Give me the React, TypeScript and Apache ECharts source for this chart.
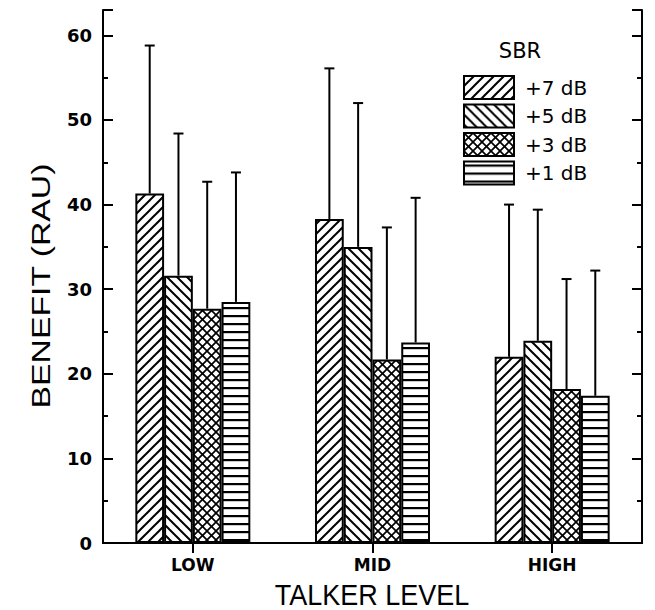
import React, { useEffect, useRef } from "react";
import * as echarts from "echarts";

const categories = ["LOW", "MID", "HIGH"];
const sbrLevels = ["+7 dB", "+5 dB", "+3 dB", "+1 dB"];
const mean7 = [41.3, 38.3, 22.0];
const mean5 = [31.6, 35.0, 23.9];
const mean3 = [27.7, 21.7, 18.2];
const mean1 = [28.5, 23.7, 17.4];
const top7 = [58.8, 56.1, 40.0];
const top5 = [48.4, 52.0, 39.4];
const top3 = [42.7, 37.3, 31.2];
const top1 = [43.8, 40.8, 32.2];
const yTicks = [0, 10, 20, 30, 40, 50, 60];

const means = [mean7, mean5, mean3, mean1];
const tops = [top7, top5, top3, top1];
const kinds = ["fwd", "back", "cross", "horiz"];

function makePattern(kind: string): any {
  const s = kind === "horiz" ? 8 : kind === "cross" ? 9 : 10;
  const c = document.createElement("canvas");
  c.width = s;
  c.height = s;
  const g = c.getContext("2d")!;
  g.fillStyle = "#fff";
  g.fillRect(0, 0, s, s);
  g.strokeStyle = "#000";
  g.fillStyle = "#000";
  g.lineWidth = kind === "cross" ? 1.7 : 2;
  const line = (x1: number, y1: number, x2: number, y2: number) => {
    g.beginPath();
    g.moveTo(x1, y1);
    g.lineTo(x2, y2);
    g.stroke();
  };
  if (kind === "fwd" || kind === "cross") {
    line(0, s, s, 0);
    line(-2, 2, 2, -2);
    line(s - 2, s + 2, s + 2, s - 2);
  }
  if (kind === "back" || kind === "cross") {
    line(0, 0, s, s);
    line(-2, s - 2, 2, s + 2);
    line(s - 2, -2, s + 2, 2);
  }
  if (kind === "horiz") {
    g.fillRect(0, 3, s, 2.2);
  }
  return { image: c, repeat: "repeat", imageWidth: s, imageHeight: s };
}

export default function App() {
  const ref = useRef<HTMLDivElement>(null);
  useEffect(() => {
    if (!ref.current) return;
    const chart = echarts.init(ref.current, null, { renderer: "svg" });
    const patterns = kinds.map(makePattern);
    const GAP = 0.36;

    const barSeries = sbrLevels.map((name, i) => ({
      name,
      type: "bar",
      xAxisIndex: 0,
      yAxisIndex: 0,
      data: means[i],
      barGap: "0%",
      barCategoryGap: "36%",
      itemStyle: { color: patterns[i], borderColor: "#000", borderWidth: 2 },
      emphasis: { disabled: true },
      z: 2,
    }));

    const errData: number[][] = [];
    sbrLevels.forEach((_, i) => {
      categories.forEach((_, j) => {
        errData.push([j, means[i][j], tops[i][j], i]);
      });
    });

    const errSeries = {
      type: "custom",
      xAxisIndex: 0,
      yAxisIndex: 0,
      data: errData,
      encode: { x: 0, y: 2 },
      z: 3,
      silent: true,
      renderItem: (params: any, api: any) => {
        const cat = api.value(0);
        const m = api.value(1);
        const t = api.value(2);
        const si = api.value(3);
        const band = api.size([1, 0])[0];
        const bw = (band * (1 - GAP)) / 4;
        const p0 = api.coord([cat, m]);
        const p1 = api.coord([cat, t]);
        const x = p0[0] - 2 * bw + (si + 0.5) * bw;
        return {
          type: "group",
          children: [
            { type: "line", shape: { x1: x, y1: p0[1], x2: x, y2: p1[1] }, style: { stroke: "#000", lineWidth: 2 } },
            { type: "line", shape: { x1: x - 5, y1: p1[1], x2: x + 5, y2: p1[1] }, style: { stroke: "#000", lineWidth: 2 } },
          ],
        };
      },
    };

    const axisLine = { show: true, lineStyle: { color: "#000", width: 2 } };
    const yBase = { type: "value", min: 0, max: 63, splitLine: { show: false } };

    chart.setOption({
      animation: false,
      grid: { left: 103, right: 13, top: 10, bottom: 67, containLabel: false },
      legend: {
        data: sbrLevels,
        orient: "vertical",
        left: 463,
        top: 75,
        padding: 0,
        itemWidth: 50,
        itemHeight: 23,
        itemGap: 3.5,
        icon: "rect",
        selectedMode: false,
        itemStyle: { borderColor: "#000", borderWidth: 2 },
        textStyle: { fontFamily: "DejaVu Sans", fontSize: 20, lineHeight: 23, color: "#000", padding: [0, 0, 0, 6] },
      },
      xAxis: [
        {
          type: "category",
          data: categories,
          position: "bottom",
          axisLine,
          axisTick: { show: false },
          axisLabel: { fontFamily: "DejaVu Sans", fontWeight: "bold", fontSize: 17, color: "#000", margin: 13 },
        },
        {
          type: "category",
          data: categories,
          position: "top",
          axisLine,
          axisTick: { show: true, inside: true, alignWithLabel: true, length: 10, lineStyle: { color: "#000", width: 2 } },
          axisLabel: { show: false },
        },
      ],
      yAxis: [
        {
          ...yBase,
          position: "left",
          interval: 10,
          axisLine,
          axisTick: { show: true, inside: true, length: 10, lineStyle: { color: "#000", width: 2 } },
          axisLabel: {
            fontFamily: "DejaVu Sans",
            fontWeight: "bold",
            fontSize: 18,
            color: "#000",
            margin: 11,
            formatter: (v: number) => (yTicks.indexOf(v) >= 0 ? String(v) : ""),
          },
        },
        {
          ...yBase,
          position: "left",
          interval: 5,
          axisLine: { show: false },
          axisTick: { show: true, inside: true, length: 5, lineStyle: { color: "#000", width: 2 } },
          axisLabel: { show: false },
        },
        {
          ...yBase,
          position: "right",
          interval: 10,
          axisLine,
          axisTick: { show: true, inside: true, length: 10, lineStyle: { color: "#000", width: 2 } },
          axisLabel: { show: false },
        },
        {
          ...yBase,
          position: "right",
          interval: 5,
          axisLine: { show: false },
          axisTick: { show: true, inside: true, length: 5, lineStyle: { color: "#000", width: 2 } },
          axisLabel: { show: false },
        },
      ],
      graphic: [
        {
          type: "text",
          x: 520,
          y: 51,
          style: { text: "SBR", fontFamily: "DejaVu Sans", fontSize: 21, fill: "#000", textAlign: "center", textVerticalAlign: "middle" },
        },
        {
          type: "text",
          x: 372,
          y: 594,
          scaleY: 1.12,
          style: { text: "TALKER LEVEL", fontFamily: "Liberation Sans", fontSize: 27, fill: "#000", textAlign: "center", textVerticalAlign: "middle" },
        },
        {
          type: "text",
          x: 41,
          y: 286,
          rotation: Math.PI / 2,
          scaleX: 1.35,
          style: { text: "BENEFIT (RAU)", fontFamily: "Liberation Sans", fontSize: 25, fill: "#000", textAlign: "center", textVerticalAlign: "middle" },
        },
      ],
      series: [...barSeries, errSeries],
    });
    return () => chart.dispose();
  }, []);
  return <div ref={ref} style={{ position: "absolute", left: 0, top: 0, width: 655, height: 610, background: "#fff" }} />;
}
